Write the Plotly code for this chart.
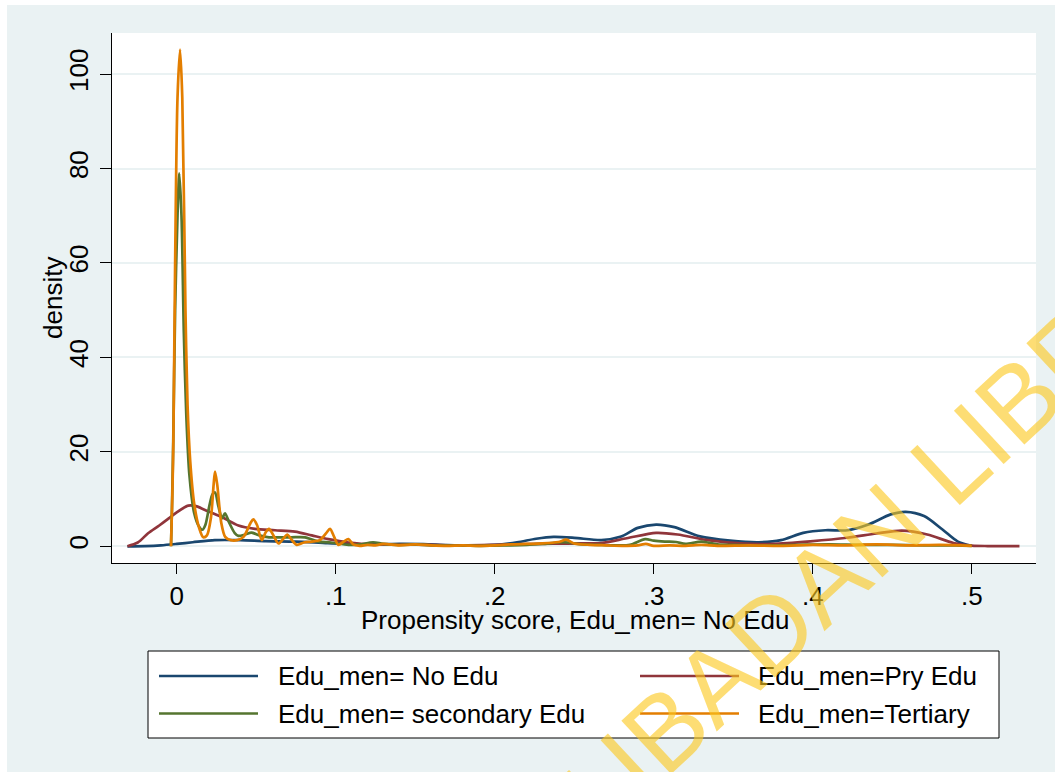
import plotly.graph_objects as go

# ---------------- data ----------------
series_names = ["Edu_men= No Edu", "Edu_men=Pry Edu",
                "Edu_men= secondary Edu", "Edu_men=Tertiary"]
series_colors = ["#1A476F", "#90353B", "#55752F", "#E37E00"]

noedu_x = [-0.031, -0.02, -0.01, 0.0, 0.01, 0.024, 0.04, 0.056, 0.075, 0.095, 0.11, 0.125,
           0.14, 0.155, 0.17, 0.185, 0.2, 0.214, 0.226, 0.237, 0.25, 0.267, 0.279, 0.29,
           0.3015, 0.313, 0.329, 0.348, 0.366, 0.38, 0.394, 0.408, 0.422, 0.435, 0.449,
           0.4585, 0.47, 0.4816, 0.491, 0.5]
noedu_y = [0, 0.05, 0.2, 0.5, 0.85, 1.3, 1.3, 1.1, 1.0, 0.65, 0.5, 0.4,
           0.5, 0.45, 0.25, 0.15, 0.3, 0.85, 1.6, 2.0, 1.8, 1.3, 2.0, 3.9,
           4.6, 4.05, 2.1, 1.2, 0.85, 1.3, 2.85, 3.4, 3.4, 4.6, 6.75,
           7.3, 6.4, 3.55, 1.05, 0.1]

pry_x = [-0.031, -0.0245, -0.018, -0.011, -0.005, 0.0, 0.0073, 0.012, 0.0178, 0.0283,
         0.0388, 0.0492, 0.0618, 0.0744, 0.0849, 0.0954, 0.108, 0.125, 0.14, 0.16, 0.18,
         0.2, 0.22, 0.237, 0.255, 0.267, 0.283, 0.3015, 0.315, 0.334, 0.357, 0.375,
         0.3985, 0.4216, 0.44, 0.456, 0.472, 0.4885, 0.5, 0.51, 0.53]
pry_y = [0, 0.8, 2.75, 4.4, 5.9, 7.2, 8.6, 8.5, 7.7, 6.2,
         4.4, 3.7, 3.4, 3.1, 2.3, 1.5, 0.8, 0.4, 0.4, 0.3, 0.2,
         0.3, 0.45, 0.55, 0.6, 0.7, 1.7, 2.85, 2.5, 1.3, 0.55, 0.5,
         1.05, 1.8, 2.7, 3.3, 2.5, 0.7, 0.15, 0.05, 0.02]

sec_x = [-0.0036, -0.003, -0.0022, -0.001, 0.0005, 0.0016, 0.003, 0.0045, 0.006, 0.008,
         0.011, 0.014, 0.0161, 0.018, 0.0205, 0.0225, 0.0241, 0.0262, 0.0285, 0.0304,
         0.033, 0.0365, 0.0388, 0.043, 0.047, 0.052, 0.058, 0.065, 0.072, 0.0807, 0.089,
         0.097, 0.108, 0.115, 0.1235, 0.13, 0.14, 0.15, 0.16, 0.17, 0.18, 0.19, 0.2, 0.21,
         0.22, 0.23, 0.2438, 0.255, 0.265, 0.275, 0.285, 0.2946, 0.3, 0.307, 0.314, 0.32,
         0.33, 0.34, 0.35, 0.37, 0.39, 0.41, 0.43, 0.45, 0.47, 0.49, 0.5]
sec_y = [0, 8, 22, 50, 70, 79, 70, 45, 28, 15,
         7, 4.2, 3.5, 4.5, 8.5, 11.0, 11.4, 8.5, 5.9, 7.0,
         5.0, 2.8, 2.2, 2.5, 2.9, 2.3, 1.9, 1.9, 1.9, 1.9, 1.0,
         0.8, 0.3, 0.4, 0.85, 0.5, 0.3, 0.4, 0.2, 0.15, 0.15, 0.1, 0.15, 0.2,
         0.3, 0.5, 0.85, 0.4, 0.3, 0.2, 0.3, 1.5, 1.2, 1.0, 0.9, 0.5,
         1.0, 0.4, 0.3, 0.2, 0.3, 0.4, 0.3, 0.3, 0.2, 0.2, 0.1]

ter_x = [-0.0036, -0.0028, -0.0021, -0.001, 0.0005, 0.0021, 0.0035, 0.0055, 0.0068, 0.0085,
         0.011, 0.014, 0.0167, 0.019, 0.0215, 0.0232, 0.0241, 0.0255, 0.028, 0.0305,
         0.034, 0.038, 0.042, 0.0465, 0.0482, 0.0505, 0.0535, 0.056, 0.058, 0.0605, 0.064,
         0.067, 0.0696, 0.072, 0.0755, 0.08, 0.085, 0.09, 0.094, 0.0964, 0.099, 0.1017,
         0.105, 0.108, 0.111, 0.115, 0.12, 0.125, 0.13, 0.14, 0.15, 0.16, 0.17, 0.18,
         0.19, 0.2, 0.21, 0.22, 0.23, 0.24, 0.245, 0.25, 0.26, 0.27, 0.28, 0.29, 0.295,
         0.3, 0.31, 0.32, 0.33, 0.34, 0.36, 0.38, 0.4, 0.42, 0.44, 0.46, 0.48, 0.5]
ter_y = [0, 10, 22.5, 60, 95, 105.2, 95, 50, 30, 18,
         9, 4, 1.9, 2.3, 6, 13, 15.8, 13, 5, 2.0,
         1.3, 1.3, 2.0, 5.0, 5.7, 4.5, 1.3, 3.0, 3.7, 2.5, 0.6,
         1.6, 2.5, 1.5, 0.3, 0.8, 1.0, 1.3, 2.8, 3.7, 2.0, 0.3,
         1.0, 1.5, 0.4, 0.1, 0.3, 0.2, 0.5, 0.2, 0.4, 0.2, 0.1, 0.2,
         0.1, 0.2, 0.4, 0.5, 0.6, 0.9, 1.4, 0.6, 0.3, 0.2, 0.1, 0.2, 0.5,
         0.1, 0.2, 0.1, 0.3, 0.1, 0.2, 0.1, 0.3, 0.2, 0.4, 0.2, 0.3, 0.1]

x_tickvals = [0, 0.1, 0.2, 0.3, 0.4, 0.5]
x_ticktext = ["0", ".1", ".2", ".3", ".4", ".5"]
y_tickvals = [0, 20, 40, 60, 80, 100]
y_ticktext = ["0", "20", "40", "60", "80", "100"]

x_title = "Propensity score, Edu_men= No Edu"
y_title = "density"
watermark = "UNIVERSITY OF IBADAN LIBRARY"

# ---------------- layout geometry ----------------
W, H = 1055, 772
PL, PR, PT, PB = 112, 1036, 33, 563   # plot area in pixels
FONT = "Liberation Sans, Arial, Helvetica, sans-serif"
BG = "#EAF2F3"


def px(xp):
    return (xp - PL) / (PR - PL)


def py(yp):
    return (PB - yp) / (PB - PT)


fig = go.Figure()
all_x = [noedu_x, pry_x, sec_x, ter_x]
all_y = [noedu_y, pry_y, sec_y, ter_y]
for name, col, xs, ys in zip(series_names, series_colors, all_x, all_y):
    fig.add_trace(go.Scatter(
        x=xs, y=ys, mode="lines", name=name,
        line=dict(color=col, width=2.7, shape="spline", smoothing=0.8),
        showlegend=False))

shapes = []
annotations = []

# white strips on top/left edge of the image
shapes.append(dict(type="rect", xref="paper", yref="paper", layer="below",
                   x0=px(0), x1=px(W), y0=py(5), y1=py(0),
                   fillcolor="white", line=dict(width=0)))
shapes.append(dict(type="rect", xref="paper", yref="paper", layer="below",
                   x0=px(0), x1=px(7), y0=py(H), y1=py(0),
                   fillcolor="white", line=dict(width=0)))

# legend box
shapes.append(dict(type="rect", xref="paper", yref="paper",
                   x0=px(148), x1=px(999), y0=py(738), y1=py(651),
                   fillcolor="white", line=dict(color="#000000", width=1)))
leg_cols = [(159, 258, 276), (640, 739, 756)]
leg_rows = [676, 713.5]
for i, (name, col) in enumerate(zip(series_names, series_colors)):
    lx0, lx1, tx = leg_cols[i % 2]
    ly = leg_rows[i // 2]
    shapes.append(dict(type="line", xref="paper", yref="paper",
                       x0=px(lx0), x1=px(lx1), y0=py(ly), y1=py(ly),
                       line=dict(color=col, width=2.7)))
    annotations.append(dict(text=name, xref="paper", yref="paper",
                            x=px(tx), y=py(ly), xanchor="left", yanchor="middle",
                            showarrow=False, font=dict(family=FONT, size=26, color="#000")))

# axis titles
annotations.append(dict(text=x_title, xref="paper", yref="paper",
                        x=px(575), y=py(620), xanchor="center", yanchor="middle",
                        showarrow=False, font=dict(family=FONT, size=26, color="#000")))
annotations.append(dict(text=y_title, xref="paper", yref="paper",
                        x=px(53), y=py(298), xanchor="center", yanchor="middle",
                        textangle=-90, showarrow=False,
                        font=dict(family=FONT, size=26, color="#000")))

# watermark
annotations.append(dict(text=watermark, xref="paper", yref="paper",
                        x=px(631), y=py(761), xanchor="center", yanchor="middle",
                        textangle=-43, showarrow=False,
                        font=dict(family=FONT, size=106, color="rgba(252,200,30,0.62)")))

fig.update_layout(
    width=W, height=H,
    margin=dict(l=PL, r=W - PR, t=PT, b=H - PB, pad=0),
    paper_bgcolor=BG, plot_bgcolor="white",
    font=dict(family=FONT, size=26, color="#000"),
    shapes=shapes, annotations=annotations,
    showlegend=False,
    xaxis=dict(range=[-0.0407, 0.5404], tickvals=x_tickvals, ticktext=x_ticktext,
               ticks="outside", ticklen=10, tickwidth=1, tickcolor="#000",
               showline=True, linecolor="#000", linewidth=1, mirror=False,
               showgrid=False, zeroline=False,
               tickfont=dict(family=FONT, size=26, color="#000")),
    yaxis=dict(range=[-3.54, 108.7], tickvals=y_tickvals, ticktext=y_ticktext,
               ticks="outside", ticklen=11, tickwidth=1, tickcolor="#000",
               tickangle=-90, ticklabelstandoff=2,
               showline=True, linecolor="#000", linewidth=1, mirror=False,
               showgrid=True, gridcolor=BG, gridwidth=2, zeroline=False,
               tickfont=dict(family=FONT, size=26, color="#000")),
)

fig.write_html("out.html", config={"displayModeBar": False},
               post_script="document.body.style.margin='0px';"
                           "document.body.style.overflow='hidden';")
